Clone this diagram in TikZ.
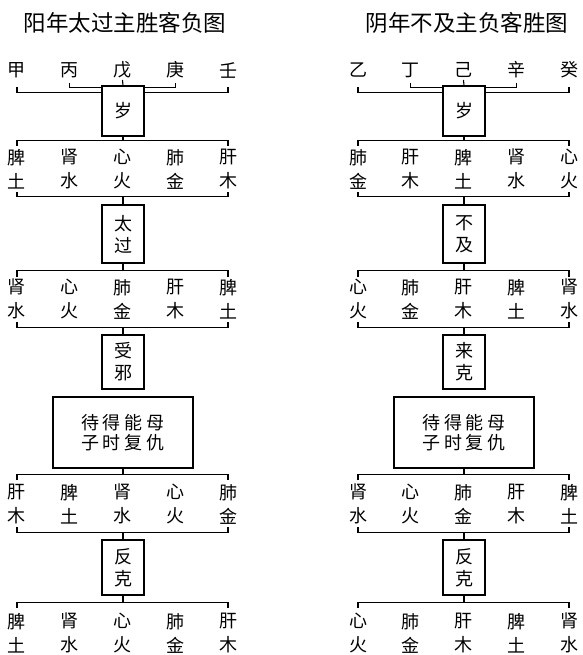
\documentclass[tikz,border=0pt]{standalone}
\usepackage{fontspec}
\newfontfamily\cjk{Noto Sans CJK SC}
\newcommand\tightlines{\lineskiplimit=-100pt\lineskip=0pt}
\begin{document}
\begin{tikzpicture}[x=1pt,y=-1pt,line width=1.1pt,
    title/.style={font=\cjk\fontsize{22.5}{26}\selectfont},
    stem/.style={font=\cjk\fontsize{18}{24}\selectfont,inner sep=0pt},
    organ/.style={font=\cjk\fontsize{18}{24}\selectfont\tightlines,align=center,inner sep=0pt},
    tag/.style={draw,font=\cjk\fontsize{18}{22}\selectfont\tightlines,align=center,minimum width=42pt,inner sep=0pt},
    bigtag/.style={draw,font=\cjk\fontsize{18}{20}\selectfont\tightlines,align=center,minimum width=140pt,minimum height=71pt,inner sep=0pt}]
        \useasboundingbox (0,0) rectangle (582,655);
        % yang year
        \node[title] (yTitle) at (125,23) {阳年太过主胜客负图};
        \foreach \t [count=\i] in {甲,丙,戊,庚,壬}
            \node[stem] (yS\i) at ({17+52.75*(\i-1)},70) {\t};
        \foreach \a/\b [count=\i] in {脾/土,肾/水,心/火,肺/金,肝/木}
            \node[organ] (yA\i) at ({17+52.75*(\i-1)},169) {\a\\\b};
        \foreach \a/\b [count=\i] in {肾/水,心/火,肺/金,肝/木,脾/土}
            \node[organ] (yB\i) at ({17+52.75*(\i-1)},299) {\a\\\b};
        \foreach \a/\b [count=\i] in {肝/木,脾/土,肾/水,心/火,肺/金}
            \node[organ] (yC\i) at ({17+52.75*(\i-1)},504) {\a\\\b};
        \foreach \a/\b [count=\i] in {脾/土,肾/水,心/火,肺/金,肝/木}
            \node[organ] (yD\i) at ({17+52.75*(\i-1)},633) {\a\\\b};
        \node[tag,minimum height=50pt] (ySui) at (123,111) {岁};
        \node[tag,minimum height=58pt] (yT1) at (123,234) {太\\过};
        \node[tag,minimum height=54pt] (yT2) at (123,362) {受\\邪};
        \node[bigtag] (yBig) at (123,432.5) {待\hspace{4pt}得\hspace{4pt}能\hspace{4pt}母\\子\hspace{4pt}时\hspace{4pt}复\hspace{4pt}仇};
        \node[tag,minimum height=55pt] (yT3) at (123,567.5) {反\\克};
        % yin year
        \begin{scope}[xshift=341pt]
        \node[title] (nTitle) at (126,23) {阴年不及主负客胜图};
        \foreach \t [count=\i] in {乙,丁,己,辛,癸}
            \node[stem] (nS\i) at ({17+52.75*(\i-1)},70) {\t};
        \foreach \a/\b [count=\i] in {肺/金,肝/木,脾/土,肾/水,心/火}
            \node[organ] (nA\i) at ({17+52.75*(\i-1)},169) {\a\\\b};
        \foreach \a/\b [count=\i] in {心/火,肺/金,肝/木,脾/土,肾/水}
            \node[organ] (nB\i) at ({17+52.75*(\i-1)},299) {\a\\\b};
        \foreach \a/\b [count=\i] in {肾/水,心/火,肺/金,肝/木,脾/土}
            \node[organ] (nC\i) at ({17+52.75*(\i-1)},504) {\a\\\b};
        \foreach \a/\b [count=\i] in {心/火,肺/金,肝/木,脾/土,肾/水}
            \node[organ] (nD\i) at ({17+52.75*(\i-1)},633) {\a\\\b};
        \node[tag,minimum height=50pt] (nSui) at (123,111) {岁};
        \node[tag,minimum height=58pt] (nT1) at (123,234) {不\\及};
        \node[tag,minimum height=54pt] (nT2) at (123,362) {来\\克};
        \node[bigtag] (nBig) at (123,432.5) {待\hspace{4pt}得\hspace{4pt}能\hspace{4pt}母\\子\hspace{4pt}时\hspace{4pt}复\hspace{4pt}仇};
        \node[tag,minimum height=55pt] (nT3) at (123,567.5) {反\\克};
        \end{scope}
        % brackets
        \foreach \p in {y,n}{
            \draw ([yshift=-17pt]\p S1.center) |- ([yshift=-7pt]\p Sui.north west);
            \draw ([yshift=-17pt]\p S5.center) |- ([yshift=-7pt]\p Sui.north east);
            \draw ([yshift=-13pt]\p S2.center) |- ([yshift=-2pt]\p Sui.north west);
            \draw ([yshift=-13pt]\p S4.center) |- ([yshift=-2pt]\p Sui.north east);
            \draw ([yshift=-10pt]\p S3.center) -- (\p Sui.north);
            \draw ([yshift=23pt]\p A1.center) |- ([yshift=-4pt]\p Sui.south) -| ([yshift=23pt]\p A5.center);
            \draw (\p Sui.south) -- ([yshift=-4pt]\p Sui.south);
            \draw ([yshift=-23pt]\p A1.center) |- ([yshift=8pt]\p T1.north) -| ([yshift=-23pt]\p A5.center);
            \draw (\p T1.north) -- ([yshift=8pt]\p T1.north);
            \draw ([yshift=22pt]\p B1.center) |- ([yshift=-7pt]\p T1.south) -| ([yshift=22pt]\p B5.center);
            \draw (\p T1.south) -- ([yshift=-7pt]\p T1.south);
            \draw ([yshift=-23pt]\p B1.center) |- ([yshift=7pt]\p T2.north) -| ([yshift=-23pt]\p B5.center);
            \draw (\p T2.north) -- ([yshift=7pt]\p T2.north);
            \draw ([yshift=24pt]\p C1.center) |- ([yshift=-6pt]\p Big.south) -| ([yshift=24pt]\p C5.center);
            \draw (\p Big.south) -- ([yshift=-6pt]\p Big.south);
            \draw ([yshift=-23pt]\p C1.center) |- ([yshift=7pt]\p T3.north) -| ([yshift=-23pt]\p C5.center);
            \draw (\p T3.north) -- ([yshift=7pt]\p T3.north);
            \draw ([yshift=25pt]\p D1.center) |- ([yshift=-7pt]\p T3.south) -| ([yshift=25pt]\p D5.center);
            \draw (\p T3.south) -- ([yshift=-7pt]\p T3.south);
        }
    \end{tikzpicture}
\end{document}
